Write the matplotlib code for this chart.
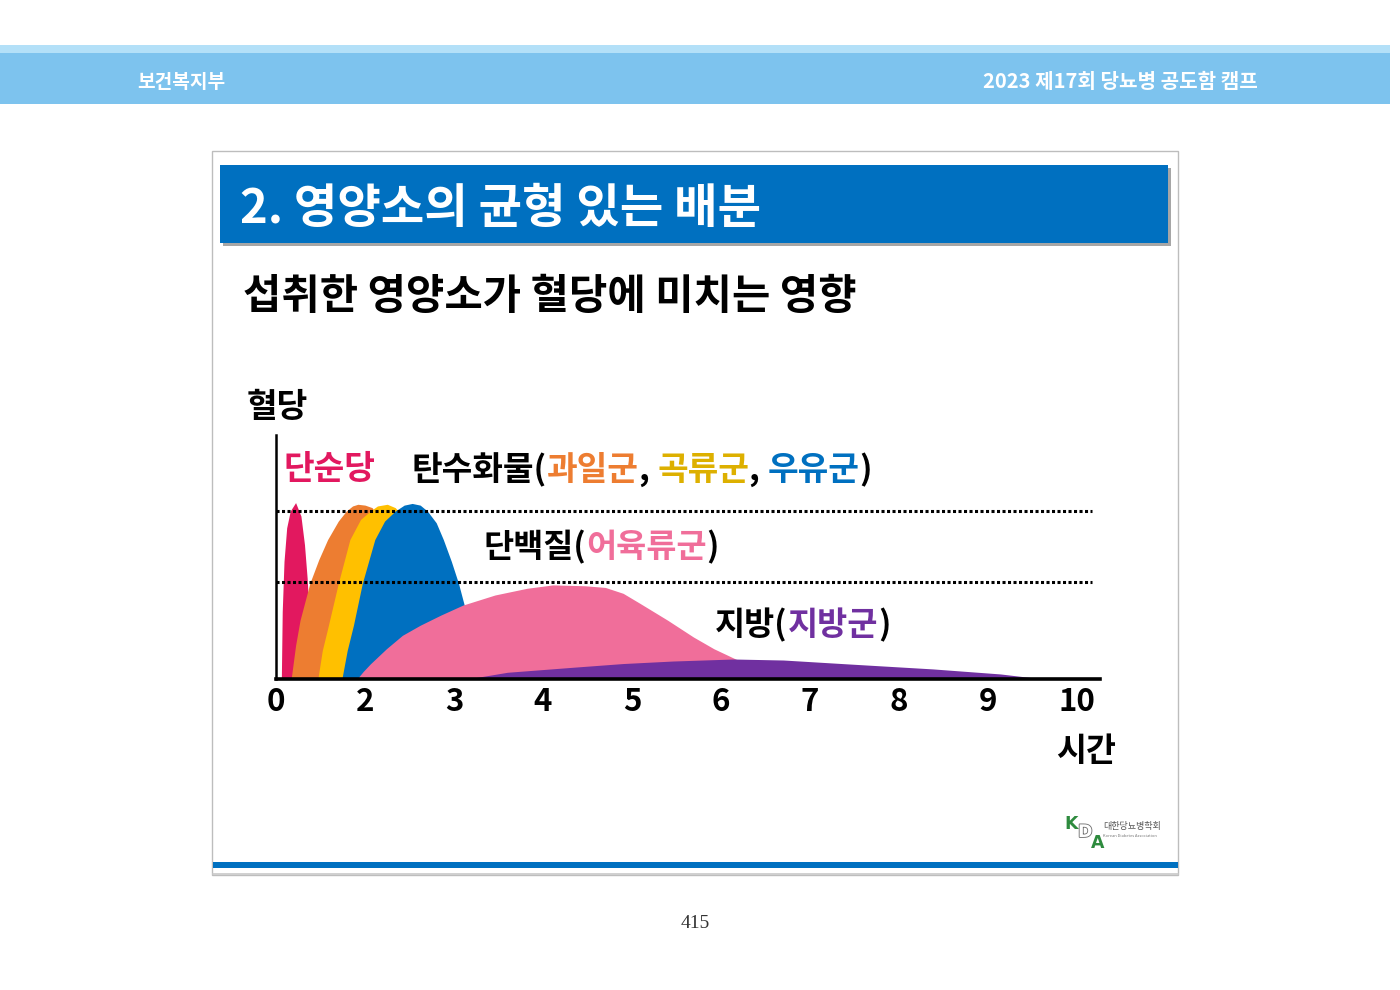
import matplotlib
matplotlib.use("Agg")
import matplotlib.pyplot as plt
import matplotlib.patheffects as pe
from matplotlib.patches import Rectangle

plt.rcParams['font.family'] = ['Noto Sans CJK KR', 'DejaVu Sans']

# blood-glucose response curves (x: slot on the time axis, y: relative level)
sugar_x = [0.06, 0.07, 0.09, 0.12, 0.16, 0.22, 0.28, 0.32, 0.35, 0.38, 0.40]
sugar_y = [0.00, 0.40, 0.70, 0.90, 1.00, 1.05, 0.97, 0.80, 0.60, 0.30, 0.00]

fruit_x = [0.17, 0.22, 0.27, 0.38, 0.48, 0.58, 0.70, 0.79, 0.86, 0.92, 1.00, 1.08, 1.20, 1.32, 1.42, 1.50]
fruit_y = [0.00, 0.20, 0.35, 0.57, 0.71, 0.83, 0.94, 1.00, 1.03, 1.04, 1.035, 1.02, 0.92, 0.70, 0.35, 0.00]

grain_x = [0.47, 0.52, 0.58, 0.70, 0.83, 0.95, 1.06, 1.14, 1.25, 1.34, 1.45, 1.60, 1.72, 1.80]
grain_y = [0.00, 0.17, 0.30, 0.57, 0.83, 0.95, 1.00, 1.03, 1.04, 1.02, 0.95, 0.70, 0.35, 0.00]

milk_x = [0.74, 0.80, 0.87, 0.97, 1.11, 1.22, 1.34, 1.44, 1.53, 1.62, 1.70, 1.80, 1.88, 1.97, 2.05, 2.12, 2.20, 2.28]
milk_y = [0.00, 0.17, 0.32, 0.57, 0.83, 0.94, 1.00, 1.035, 1.045, 1.035, 1.00, 0.93, 0.83, 0.70, 0.57, 0.43, 0.20, 0.00]

meat_x = [0.91, 0.98, 1.06, 1.24, 1.42, 1.62, 1.85, 2.10, 2.46, 2.82, 3.11, 3.47, 3.70, 3.90, 4.09, 4.40, 4.69, 4.92, 5.14, 5.44, 5.62]
meat_y = [0.00, 0.045, 0.09, 0.18, 0.26, 0.32, 0.38, 0.44, 0.50, 0.54, 0.56, 0.555, 0.545, 0.51, 0.45, 0.35, 0.25, 0.18, 0.125, 0.05, 0.00]

fat_x = [2.15, 2.60, 3.34, 3.90, 4.46, 5.14, 5.70, 6.45, 7.38, 8.14, 8.62]
fat_y = [0.00, 0.040, 0.070, 0.092, 0.107, 0.119, 0.113, 0.089, 0.060, 0.030, 0.00]

upper_level = 1.0
lower_level = 0.577

tick_labels = ['0', '2', '3', '4', '5', '6', '7', '8', '9', '10']

# colours
c_sugar = '#E2185F'
c_fruit = '#ED7D31'
c_grain = '#FFC000'
c_milk = '#0070C0'
c_meat = '#F06E9A'
c_fat = '#7030A0'

W, H = 1400, 990
fig = plt.figure(figsize=(14, 9.9), dpi=100)
fig.patch.set_facecolor('white')

# page layer in pixel coordinates
page = fig.add_axes([0, 0, 1, 1])
page.set_xlim(0, W)
page.set_ylim(H, 0)
page.axis('off')

# header band
page.add_patch(Rectangle((0, 45), 1390, 9, color='#B3E0F8', lw=0))
page.add_patch(Rectangle((0, 53), 1390, 51, color='#7DC3EE', lw=0))
page.text(137, 82, '보건복지부', color='white', fontsize=13.8, fontweight='bold', va='center')
page.text(1258, 82, '2023 제17회 당뇨병 공도함 캠프', color='white', fontsize=14.5,
          fontweight='bold', va='center', ha='right')

# slide frame
page.add_patch(Rectangle((212, 151), 966, 724, fill=False, ec='#BDBDBD', lw=1))
page.add_patch(Rectangle((223, 168), 948, 78, color='#A6A6A6', lw=0))
page.add_patch(Rectangle((220, 165), 948, 78, color='#0070C0', lw=0))
page.text(240, 209, '2. 영양소의 균형 있는 배분', color='white', fontsize=34,
          fontweight='bold', va='center')
page.text(243, 297, '섭취한 영양소가 혈당에 미치는 영향', color='black', fontsize=30,
          fontweight='bold', va='center')

# bottom rule of the slide
page.add_patch(Rectangle((213, 862), 965, 6, color='#0070C0', lw=0))
page.plot([213, 1178], [874, 874], color='#C8C8C8', lw=1.2)

# logo
page.text(1064, 824, 'K', color='#2E8B3E', fontsize=12.5, fontweight='bold', va='center',
          family='DejaVu Sans')
page.text(1078, 832, 'D', color='white', fontsize=12.5, fontweight='bold', va='center',
          family='DejaVu Sans',
          path_effects=[pe.withStroke(linewidth=1.2, foreground='#6b6b6b')])
page.text(1091, 843, 'A', color='#2E8B3E', fontsize=12.5, fontweight='bold', va='center',
          family='DejaVu Sans')
page.text(1103, 827, '대한당뇨병학회', color='#555555', fontsize=6.5, va='center')
page.text(1103, 836, 'Korean Diabetes Association', color='#777777', fontsize=2.9, va='center')

# page number
page.text(695, 923, '415', color='#333333', fontsize=14, family='Liberation Serif',
          ha='center', va='center')

# chart axes
px_per_unit = 89.0
x0_px, base_px, top_px = 276.0, 679.0, 435.0
xmin, xmax = 0.0, 9.26
ax = fig.add_axes([(x0_px + xmin * px_per_unit) / W, 1 - base_px / H,
                   (xmax - xmin) * px_per_unit / W, (base_px - top_px) / H])
ax.set_facecolor('none')
ax.set_xlim(xmin, xmax)
ax.set_ylim(0, (base_px - top_px) / 168.0)

ax.fill_between(sugar_x, sugar_y, color=c_sugar, lw=0, zorder=1)
ax.fill_between(fruit_x, fruit_y, color=c_fruit, lw=0, zorder=2)
ax.fill_between(grain_x, grain_y, color=c_grain, lw=0, zorder=3)
ax.fill_between(milk_x, milk_y, color=c_milk, lw=0, zorder=4)
ax.fill_between(meat_x, meat_y, color=c_meat, lw=0, zorder=5)
ax.fill_between(fat_x, fat_y, color=c_fat, lw=0, zorder=6)

for lvl in (upper_level, lower_level):
    ax.plot([0.0, 9.17], [lvl, lvl], color='black', lw=2.2,
            linestyle=(0, (1, 0.8)), zorder=7)

for side in ('top', 'right'):
    ax.spines[side].set_visible(False)
ax.spines['left'].set_linewidth(1.8)
ax.spines['bottom'].set_linewidth(2.6)
ax.spines['left'].set_zorder(8)
ax.spines['bottom'].set_zorder(8)
ax.set_yticks([])
ax.set_xticks(range(len(tick_labels)))
ax.set_xticklabels(tick_labels, fontsize=22.5, fontweight='bold')
ax.tick_params(axis='x', length=0, pad=5)


def colored_line(x, y, parts, size=24):
    """Draw text pieces of different colours one after another."""
    first_txt, first_col = parts[0]
    prev = page.text(x, y, first_txt, color=first_col, fontsize=size,
                     fontweight='bold', va='center')
    for txt, col in parts[1:]:
        prev = page.annotate(txt, xy=(1, 0), xycoords=prev, va='bottom', ha='left',
                             color=col, fontsize=size, fontweight='bold')
    return prev


page.text(247, 407, '혈당', fontsize=24, fontweight='bold', va='center')
page.text(1056, 752, '시간', fontsize=23.5, fontweight='bold', va='center')
colored_line(284, 470, [('단순당', c_sugar)])
colored_line(412, 470, [('탄수화물(', 'black'), ('과일군', c_fruit), (', ', 'black'),
                        ('곡류군', '#DDB000'), (', ', 'black'), ('우유군', c_milk),
                        (')', 'black')])
colored_line(483, 547, [('단백질(', 'black'), ('어육류군', c_meat), (')', 'black')], size=23.6)
colored_line(715, 625, [('지방(', 'black'), ('지방군', c_fat), (')', 'black')], size=23.6)

fig.savefig('out.png', dpi=100)
